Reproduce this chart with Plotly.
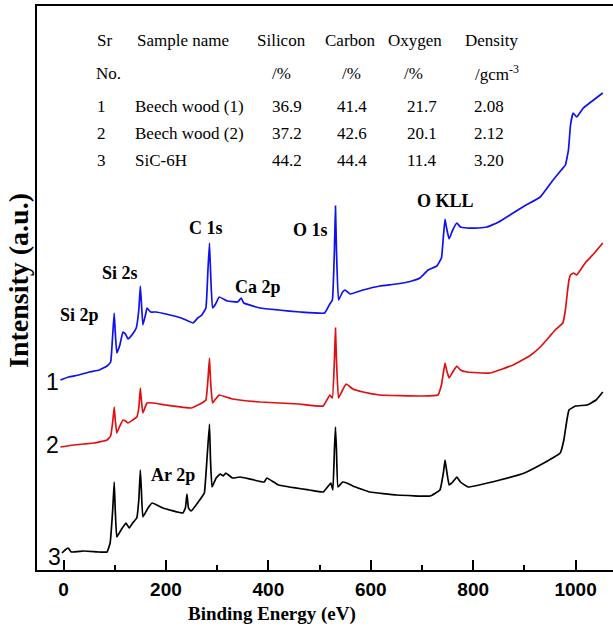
import plotly.graph_objects as go

# ---- Data (intensity in arbitrary units) ----
blue_E = [-6, 10, 30, 50, 70, 85, 92, 96, 99, 101, 104, 110, 116, 121, 126, 135, 142, 147, 150, 152, 155,
          160, 163, 170, 180, 200, 230, 253, 262, 270, 278, 282, 285, 287, 291, 297, 304, 320, 340, 347,
          352, 384, 420, 462, 510, 520, 525, 529, 531, 533, 537, 545, 550, 560, 585, 618, 650, 680, 696,
          712, 729, 738, 742, 745, 748, 753, 760, 768, 775, 788, 810, 827, 850, 878, 900, 931, 956, 972,
          980, 986, 990, 995, 1002, 1015, 1035, 1053]
blue_I = [190, 193, 195, 198, 200, 204, 208, 235, 257, 238, 217, 225, 238, 236, 231, 236, 242, 260, 284, 268, 245,
          255, 262, 258, 258, 256, 252, 247, 252, 255, 262, 300, 327, 300, 262, 266, 273, 269, 268, 272,
          267, 262, 260, 258, 257, 266, 270, 320, 364, 320, 270, 278, 280, 276, 280, 284, 286, 289, 292,
          300, 304, 312, 335, 351, 342, 331, 340, 347, 343, 342, 342, 343, 348, 357, 364, 373, 390, 400,
          405, 420, 445, 457, 453, 462, 470, 477]

red_E = [-6, 20, 40, 60, 85, 92, 96, 99, 101, 104, 110, 116, 121, 126, 135, 143, 147, 150, 152, 155, 163,
         175, 200, 250, 270, 278, 282, 285, 287, 291, 297, 304, 330, 384, 460, 507, 520, 525, 529, 531,
         533, 537, 545, 552, 565, 585, 618, 700, 731, 738, 742, 745, 748, 753, 760, 768, 775, 788, 833,
         878, 910, 931, 950, 960, 975, 980, 984, 987, 990, 996, 1002, 1020, 1035, 1053]
red_I = [123, 125, 126, 127, 130, 134, 148, 163, 150, 137, 144, 150, 149, 147, 150, 153, 162, 182, 170, 157, 167,
         167, 165, 162, 167, 170, 190, 212, 190, 167, 171, 175, 171, 168, 166, 164, 175, 172, 210, 242,
         210, 172, 180, 186, 181, 178, 175, 174, 175, 185, 198, 207, 200, 192, 198, 204, 200, 198, 197,
         205, 214, 223, 234, 240, 247, 260, 278, 290, 295, 297, 295, 308, 316, 327]

black_E = [-3, 3, 9, 15, 40, 70, 85, 91, 96, 99, 101, 104, 110, 116, 122, 128, 135, 143, 147, 150, 152,
           155, 165, 173, 194, 233, 238, 241, 244, 249, 270, 275, 280, 285, 287, 290, 298, 306, 312, 317,
           330, 345, 392, 397, 420, 480, 507, 522, 526, 529, 531, 533, 536, 545, 553, 565, 598, 651, 716,
           735, 742, 745, 748, 753, 760, 768, 775, 790, 852, 900, 931, 955, 970, 977, 983, 987, 1000,
           1022, 1040, 1053]
black_I = [17, 20, 22, 18, 19, 18, 18, 27, 60, 88, 60, 33, 38, 43, 47, 42, 47, 52, 70, 100, 80,
           53, 62, 67, 62, 57, 62, 76, 62, 59, 73, 77, 110, 146, 110, 83, 92, 96, 94, 97,
           92, 93, 88, 92, 85, 80, 78, 87, 80, 120, 143, 120, 83, 88, 87, 84, 78, 75, 74,
           80, 98, 110, 100, 85, 88, 93, 88, 83, 90, 97, 105, 112, 117, 130, 150, 160, 164,
           165, 170, 178]

peak_labels = ["Si 2p", "Si 2s", "C 1s", "Ca 2p", "O 1s", "O KLL", "Ar 2p"]
sample_numbers = ["1", "2", "3"]

table_header1 = ["Sr", "Sample name", "Silicon", "Carbon", "Oxygen", "Density"]
table_header2 = ["No.", "/%", "/%", "/%", "/gcm<sup>-3</sup>"]
table_sr = ["1", "2", "3"]
table_names = ["Beech wood (1)", "Beech wood (2)", "SiC-6H"]
table_si = ["36.9", "37.2", "44.2"]
table_c = ["41.4", "42.6", "44.4"]
table_o = ["21.7", "20.1", "11.4"]
table_density = ["2.08", "2.12", "3.20"]

# ---- Layout geometry ----
W, H = 613, 634
L, R, T, B = 37, 0, 6, 64
X0, X1 = -51.8, 1073.0
Y0, Y1 = 0, 564


def px2x(px):
    return X0 + (px - L) / (W - L - R) * (X1 - X0)


def py2y(py):
    return (H - B) - py


SERIF = "Liberation Serif"
SANS = "Liberation Sans"

fig = go.Figure()
for E, I, col in [(blue_E, blue_I, "#1010f0"), (red_E, red_I, "#e01010"), (black_E, black_I, "#000000")]:
    fig.add_trace(go.Scatter(x=E, y=I, mode="lines", line=dict(color=col, width=1.7, shape="spline", smoothing=0.3),
                             showlegend=False, hoverinfo="skip"))

ann = []
label_px = [(79, 315), (120, 273), (206, 228), (258, 287), (310, 230), (445, 201), (173, 475)]
for txt, (px, py) in zip(peak_labels, label_px):
    ann.append(dict(x=px2x(px), y=py2y(py), text=txt, showarrow=False, xanchor="center", yanchor="middle",
                    font=dict(family=SERIF, size=18, color="black", weight="bold")))

num_px = [(52, 382), (52, 445), (54, 557)]
for txt, (px, py) in zip(sample_numbers, num_px):
    ann.append(dict(x=px2x(px), y=py2y(py), text=txt, showarrow=False, xanchor="center", yanchor="middle",
                    font=dict(family=SANS, size=23, color="black")))

# table
col_x_h1 = [95, 135, 255, 323, 386, 463]
col_x_h2 = [94, 270, 340, 402, 473]
col_x_rows = [95, 133, 270, 335, 405, 472]
row_y = [106, 133, 160]
tfont = dict(family=SERIF, size=17, color="black")
for txt, px in zip(table_header1, col_x_h1):
    ann.append(dict(x=px2x(px), y=py2y(40), text=txt, showarrow=False, xanchor="left", yanchor="middle", font=tfont))
for txt, px in zip(table_header2, col_x_h2):
    ann.append(dict(x=px2x(px), y=py2y(73), text=txt, showarrow=False, xanchor="left", yanchor="middle", font=tfont))
for i in range(3):
    vals = [table_sr[i], table_names[i], table_si[i], table_c[i], table_o[i], table_density[i]]
    for txt, px in zip(vals, col_x_rows):
        ann.append(dict(x=px2x(px), y=py2y(row_y[i]), text=txt, showarrow=False, xanchor="left",
                        yanchor="middle", font=tfont))

# axis titles
ann.append(dict(xref="paper", yref="paper", x=(18 - L) / (W - L - R), y=(H - B - 281) / (H - B - T),
                text="Intensity (a.u.)", textangle=-90, showarrow=False, xanchor="center", yanchor="middle",
                font=dict(family=SERIF, size=28, color="black", weight="bold")))
ann.append(dict(xref="paper", yref="paper", x=(272 - L) / (W - L - R), y=(H - B - 614) / (H - B - T),
                text="Binding Energy (eV)", showarrow=False, xanchor="center", yanchor="middle",
                font=dict(family=SERIF, size=19, color="black", weight="bold")))

fig.update_layout(
    width=W, height=H, margin=dict(l=L, r=R, t=T, b=B, pad=0),
    paper_bgcolor="white", plot_bgcolor="white",
    annotations=ann,
    xaxis=dict(range=[X0, X1], showgrid=False, zeroline=False, showline=True, linecolor="black",
               linewidth=2, mirror=True, ticks="inside", ticklen=10, tickwidth=1.5, tickcolor="black",
               tick0=0, dtick=200, tickfont=dict(family=SANS, size=19, color="black", weight="bold"),
               ticklabelstandoff=1,
               minor=dict(ticks="inside", ticklen=5, tickwidth=1.5, tickcolor="black", dtick=100, showgrid=False)),
    yaxis=dict(range=[Y0, Y1], showgrid=False, zeroline=False, showline=True, linecolor="black",
               linewidth=2, ticks="", showticklabels=False),
)

fig.write_html("out.html")
